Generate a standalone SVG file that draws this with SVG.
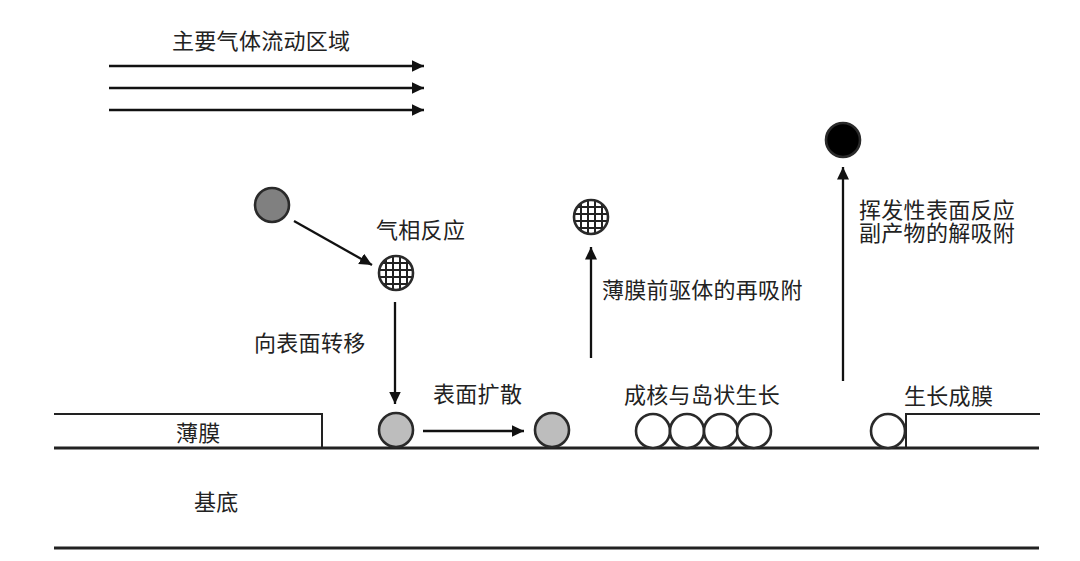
<svg xmlns="http://www.w3.org/2000/svg" width="1080" height="561" viewBox="0 0 1080 561">
<style>
text{font-family:"Liberation Sans","Noto Sans CJK SC",sans-serif;font-size:22px;fill:#222;letter-spacing:0.3px}
.c{stroke:#222;stroke-width:2;fill:none}
.a{stroke:#111;stroke-width:2.3;fill:none;marker-end:url(#arrow)}
.b{stroke:#222;stroke-width:2.8;fill:none}
.n{stroke:#2a2a2a;stroke-width:2.6}
</style>
<defs>
<marker id="arrow" markerUnits="userSpaceOnUse" markerWidth="14" markerHeight="13" refX="12.5" refY="6" orient="auto"><path d="M0 0L12.5 6L0 12Z" fill="#111"/></marker>
<pattern id="grid" patternUnits="userSpaceOnUse" x="378" y="255" width="7" height="7"><rect width="7" height="7" fill="#fff"/><path d="M0 1H7M1 0V7" stroke="#222" stroke-width="2"/></pattern>
<pattern id="grid2" patternUnits="userSpaceOnUse" x="573" y="199" width="7" height="7"><rect width="7" height="7" fill="#fff"/><path d="M0 1H7M1 0V7" stroke="#222" stroke-width="2"/></pattern>
</defs>
<rect width="1080" height="561" fill="#fff"/>
<g id="structure">
<path class="b" d="M54 448H1039"/>
<path class="b" d="M54 548H1039"/>
<path class="c" d="M54 414H322V448"/>
<path class="c" d="M1040 414H906V448"/>
</g>
<g id="connectors">
<path class="a" d="M109 66H424"/>
<path class="a" d="M109 88H424"/>
<path class="a" d="M109 110H424"/>
<path class="a" d="M294 221L372 265"/>
<path class="a" d="M395 302V404"/>
<path class="a" d="M423 431H524"/>
<path class="a" d="M591 358V247"/>
<path class="a" d="M843 381V167"/>
</g>
<g id="node-gas"><circle class="n" cx="272" cy="205" r="17" fill="#808080"/></g>
<g id="node-precursor-1"><circle class="n" cx="396" cy="273" r="17" fill="url(#grid)"/></g>
<g id="node-precursor-2"><circle class="n" cx="591" cy="217" r="17" fill="url(#grid2)"/></g>
<g id="node-byproduct"><circle class="n" cx="843" cy="140" r="17" fill="#000"/></g>
<g id="node-adsorbed-1"><circle class="n" cx="396" cy="430" r="17" fill="#bdbdbd"/></g>
<g id="node-adsorbed-2"><circle class="n" cx="552" cy="430" r="17" fill="#bdbdbd"/></g>
<g id="node-island">
<circle class="n" cx="653" cy="431" r="17" fill="#fff"/>
<circle class="n" cx="687" cy="431" r="17" fill="#fff"/>
<circle class="n" cx="721" cy="431" r="17" fill="#fff"/>
<circle class="n" cx="754" cy="431" r="17" fill="#fff"/>
</g>
<g id="node-growth"><circle class="n" cx="888" cy="431" r="17" fill="#fff"/></g>
<g id="labels">
<text x="172" y="49">主要气体流动区域</text>
<text x="376" y="238">气相反应</text>
<text x="254" y="351">向表面转移</text>
<text x="433" y="402">表面扩散</text>
<text x="176" y="441">薄膜</text>
<text x="194" y="510">基底</text>
<text x="602" y="298">薄膜前驱体的再吸附</text>
<text x="624" y="403">成核与岛状生长</text>
<text x="904" y="404">生长成膜</text>
<text x="859" y="218">挥发性表面反应<tspan x="859" dy="23">副产物的解吸附</tspan></text>
</g>
</svg>
